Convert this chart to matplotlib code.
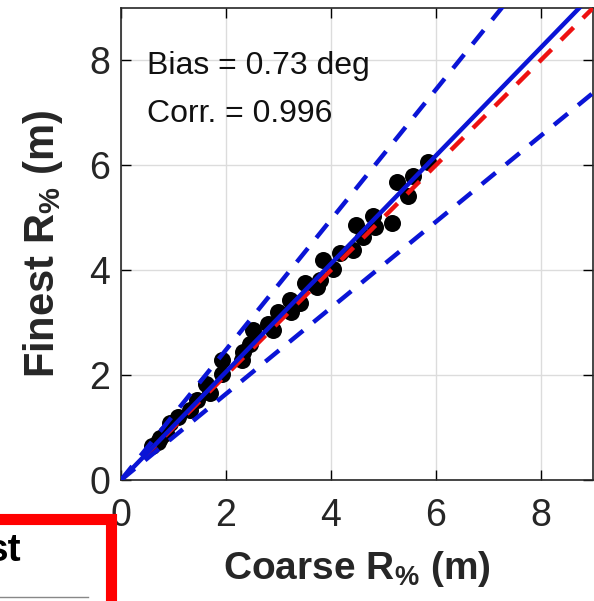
import numpy as np
import matplotlib
matplotlib.use("Agg")
import matplotlib.pyplot as plt
from matplotlib.patches import Rectangle

plt.rcParams["font.family"] = ["Liberation Sans", "DejaVu Sans"]
plt.rcParams["mathtext.fontset"] = "custom"
plt.rcParams["mathtext.rm"] = "Liberation Sans"
plt.rcParams["mathtext.bf"] = "Liberation Sans:bold"

# scatter of coarse vs finest run-up
coarse = [0.6, 0.7, 0.75, 0.85, 0.93, 1.09, 1.31, 1.44, 1.63, 1.70, 1.92, 1.92,
          2.30, 2.33, 2.46, 2.52, 2.81, 2.90, 3.00, 3.22, 3.25, 3.41, 3.50, 3.73,
          3.79, 3.85, 4.04, 4.17, 4.43, 4.49, 4.62, 4.81, 4.84, 5.16, 5.26, 5.47,
          5.56, 5.85]
finest = [0.65, 0.72, 0.80, 0.90, 1.08, 1.21, 1.33, 1.52, 1.84, 1.65, 2.29, 2.03,
          2.29, 2.44, 2.60, 2.86, 2.98, 2.86, 3.21, 3.43, 3.21, 3.37, 3.75, 3.68,
          3.81, 4.19, 4.03, 4.32, 4.38, 4.86, 4.63, 5.03, 4.83, 4.90, 5.68, 5.41,
          5.79, 6.06]

fit_slope = 1.03
upper_slope = 1.24
lower_slope = 0.82
line_x = [0, 9]

ticks = [0, 2, 4, 6, 8]
bias_text = "Bias = 0.73 deg"
corr_text = "Corr. = 0.996"

fig = plt.figure(figsize=(5.94, 6.01), dpi=100)
ax = fig.add_axes([121 / 594, 1 - 480 / 601, 472 / 594, 472 / 601])

ax.scatter(coarse, finest, s=150, c="black", zorder=2, linewidths=0)
ax.plot(line_x, line_x, color="#ee1111", lw=3.2, ls=(0, (4, 3)), zorder=3)
ax.plot(line_x, [fit_slope * v for v in line_x], color="#0a14d6", lw=3.2, zorder=4)
ax.plot(line_x, [upper_slope * v for v in line_x], color="#0a14d6", lw=3.2,
        ls=(0, (4, 3)), zorder=4)
ax.plot(line_x, [lower_slope * v for v in line_x], color="#0a14d6", lw=3.2,
        ls=(0, (4, 3)), zorder=4)

ax.set_xlim(0, 9)
ax.set_ylim(0, 9)
ax.set_xticks(ticks)
ax.set_yticks(ticks)
ax.grid(True, color="#dcdcdc", lw=1)
ax.set_axisbelow(True)
ax.tick_params(direction="in", length=7, width=1, top=True, right=True,
               labelsize=27, labelcolor="#262626")
ax.tick_params(axis="x", pad=13)
ax.tick_params(axis="y", pad=8)
for s in ax.spines.values():
    s.set_linewidth(1.2)
    s.set_color("#262626")

ax.text(0.5, 7.9, bias_text, fontsize=23, va="center", color="#111111")
ax.text(0.5, 6.98, corr_text, fontsize=23, va="center", color="#111111")

ax.set_xlabel(r"Coarse R$_\mathbf{\%}$ (m)", fontsize=28, fontweight="bold",
              color="#262626", labelpad=11)
ax.set_ylabel(r"Finest R$_\mathbf{\%}$ (m)", fontsize=30, fontweight="bold",
              color="#262626", labelpad=17)

# cropped neighbouring panel in the lower-left corner
fig.patches.append(Rectangle((-20, -10), 131, 92, transform=None,
                             facecolor="white", edgecolor="#ff0000", lw=8,
                             figure=fig, zorder=5))
fig.text(21 / 594, 1 - 551 / 601, "st", fontsize=28, fontweight="bold",
         va="center", ha="right", zorder=6)
fig.add_artist(plt.Line2D([0, 88 / 594], [1 - 597 / 601] * 2, color="#888888",
                          lw=1, transform=fig.transFigure, zorder=6))

fig.savefig("out.png", dpi=100)
